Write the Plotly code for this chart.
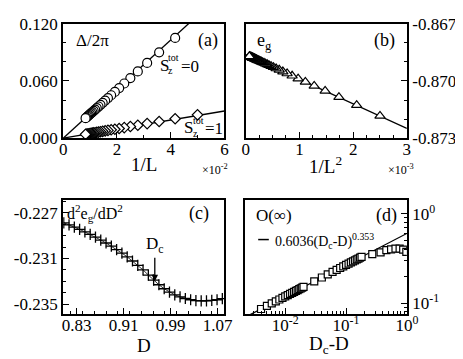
import plotly.graph_objects as go

W, H = 463, 359

# (a) gaps vs 1/L  (x in units of 1e-2)
a_x0 = [4.1667, 3.5714, 3.125, 2.7778, 2.5, 2.2727, 2.0833, 1.9231, 1.7857, 1.6667,
        1.5625, 1.4706, 1.3889, 1.3158, 1.25, 1.1905, 1.1364, 1.087, 1.0417, 1.0,
        0.9615, 0.9259, 0.8929, 0.8621, 0.8333]
a_y0 = [0.1050, 0.0900, 0.0788, 0.0700, 0.0630, 0.0573, 0.0525, 0.0485, 0.0450, 0.0420,
        0.0394, 0.0371, 0.0350, 0.0332, 0.0315, 0.0300, 0.0286, 0.0274, 0.0263, 0.0252,
        0.0242, 0.0233, 0.0225, 0.0217, 0.0210]
a_x1 = [5.0] + a_x0
a_y1 = [0.0245, 0.0204, 0.0175, 0.0153, 0.0136, 0.0123, 0.0111, 0.0102, 0.0094, 0.0088,
        0.0082, 0.0077, 0.0072, 0.0068, 0.0064, 0.0061, 0.0058, 0.0056, 0.0053, 0.0051,
        0.0049, 0.0047, 0.0045, 0.0044, 0.0042, 0.0041]
a_fit_x = [0, 6]
a_fit0_y = [0, 0.1542]
a_fit1_y = [0, 0.0285]

# (b) energy vs 1/L^2 (x in units of 1e-3)
b_x = [2.5, 2.0661, 1.7361, 1.4793, 1.2755, 1.1111, 0.9766, 0.8651, 0.7716, 0.6925,
       0.625, 0.5669, 0.5165, 0.4726, 0.434, 0.4, 0.3698, 0.3429, 0.3189, 0.2973,
       0.2778, 0.2601, 0.2441, 0.2296, 0.2163, 0.2041, 0.1929, 0.1826, 0.1731, 0.1644,
       0.1563, 0.1487, 0.1417, 0.1352, 0.1291, 0.1235, 0.1181, 0.1132, 0.1085, 0.1041,
       0.1, 0.0925, 0.0857, 0.0797, 0.0743, 0.0694]
b_y = [-0.87183, -0.87127, -0.87085, -0.87052, -0.87026, -0.87005, -0.86988, -0.86973,
       -0.86961, -0.86951, -0.86942, -0.86935, -0.86928, -0.86923, -0.86918, -0.86913,
       -0.86910, -0.86906, -0.86903, -0.86900, -0.86898, -0.86895, -0.86893, -0.86892,
       -0.86890, -0.86888, -0.86887, -0.86885, -0.86884, -0.86883, -0.86882, -0.86881,
       -0.86880, -0.86879, -0.86879, -0.86878, -0.86877, -0.86877, -0.86876, -0.86875,
       -0.86875, -0.86874, -0.86873, -0.86872, -0.86872, -0.86871]
b_fit_x = [0, 3]
b_fit_y = [-0.86862, -0.87248]

# (c) second derivative vs D
c_x = [0.808, 0.817, 0.826, 0.835, 0.844, 0.853, 0.862, 0.871, 0.880, 0.889,
       0.898, 0.907, 0.916, 0.925, 0.934, 0.943, 0.952, 0.961, 0.970, 0.979,
       0.988, 0.997, 1.006, 1.015, 1.024, 1.033, 1.042, 1.051, 1.060, 1.069, 1.078]
c_y = [-0.22788, -0.22806, -0.22826, -0.22846, -0.22868, -0.22890, -0.22914, -0.22939,
       -0.22965, -0.22993, -0.23022, -0.23053, -0.23086, -0.23122, -0.23160, -0.23200,
       -0.23245, -0.23290, -0.23330, -0.23365, -0.23395, -0.23418, -0.23436, -0.23450,
       -0.23461, -0.23468, -0.23471, -0.23471, -0.23467, -0.23461, -0.23452]
c_dc = 0.963

# (d) order parameter vs Dc-D
d_x = [0.004, 0.005, 0.006, 0.007, 0.008, 0.009, 0.010, 0.011, 0.012, 0.013, 0.014,
       0.015, 0.016, 0.017, 0.018, 0.019, 0.020,
       0.03, 0.04, 0.05, 0.06, 0.07, 0.08, 0.09, 0.10, 0.11, 0.12, 0.13, 0.14, 0.15,
       0.16, 0.17, 0.18,
       0.27, 0.37, 0.46, 0.55, 0.65, 0.76, 0.87, 0.98]
d_y = [0.0860, 0.0930, 0.0992, 0.1047, 0.1098, 0.1145, 0.1188, 0.1229, 0.1267, 0.1303,
       0.1338, 0.1371, 0.1402, 0.1433, 0.1462, 0.1490, 0.1518,
       0.1750, 0.1938, 0.2097, 0.2236, 0.2361, 0.2475, 0.2580, 0.2678, 0.2770, 0.2857,
       0.2938, 0.3016, 0.3090, 0.3161, 0.3229, 0.3295,
       0.355, 0.370, 0.392, 0.401, 0.408, 0.408, 0.398, 0.376]
d_fit_x = [0.002, 1.0]
d_fit_y = [0.0673, 0.6036]

FONT = "Liberation Serif, Times New Roman, serif"


def P(px):
    return px / W


def Q(py):
    return 1 - py / H


def axis(dom, rng, tickvals, ticktext, minor_dtick=None, **kw):
    d = dict(domain=dom, range=rng, tickmode="array", tickvals=tickvals, ticktext=ticktext,
             showline=True, linecolor="black", linewidth=2, mirror=True,
             ticks="inside", ticklen=6, tickwidth=1.2, tickcolor="black",
             showgrid=False, zeroline=False, ticklabeloverflow="allow",
             tickfont=dict(family=FONT, size=17, color="black"))
    m = dict(ticks="inside", ticklen=3, tickwidth=1, tickcolor="black", showgrid=False)
    if minor_dtick is not None:
        m["dtick"] = minor_dtick
    d["minor"] = m
    d.update(kw)
    return d


line = dict(color="black", width=1.3)


def mk(symbol, size):
    return dict(symbol=symbol, size=size, color="white", line=dict(color="black", width=1.2))


fig = go.Figure()
fig.add_trace(go.Scatter(x=a_fit_x, y=a_fit0_y, mode="lines", line=line, xaxis="x", yaxis="y"))
fig.add_trace(go.Scatter(x=a_fit_x, y=a_fit1_y, mode="lines", line=line, xaxis="x", yaxis="y"))
fig.add_trace(go.Scatter(x=a_x0, y=a_y0, mode="markers", marker=mk("circle", 9), xaxis="x", yaxis="y"))
fig.add_trace(go.Scatter(x=a_x1, y=a_y1, mode="markers", marker=mk("diamond", 8), xaxis="x", yaxis="y"))

fig.add_trace(go.Scatter(x=b_fit_x, y=b_fit_y, mode="lines", line=line, xaxis="x2", yaxis="y2"))
fig.add_trace(go.Scatter(x=b_x, y=b_y, mode="markers", marker=mk("triangle-up", 9), xaxis="x2", yaxis="y2"))

fig.add_trace(go.Scatter(x=c_x, y=c_y, mode="lines+markers", line=dict(color="black", width=0.8),
                         marker=dict(symbol="cross-thin", size=8, line=dict(color="black", width=1.3)),
                         xaxis="x3", yaxis="y3"))

fig.add_trace(go.Scatter(x=d_fit_x, y=d_fit_y, mode="lines", line=line, xaxis="x4", yaxis="y4"))
fig.add_trace(go.Scatter(x=d_x, y=d_y, mode="markers", marker=mk("square", 7), xaxis="x4", yaxis="y4"))

top_a, bot_a = Q(128), Q(7)
top_c, bot_c = Q(314), Q(193)
XSO = -6

fig.update_layout(
    width=W, height=H, margin=dict(l=0, r=0, t=0, b=0),
    paper_bgcolor="white", plot_bgcolor="white", showlegend=False,
    font=dict(family=FONT, color="black"),
    xaxis=axis([P(53), P(220)], [0, 6], [0, 2, 4, 6], ["0", "2", "4", "6"], 1,
               anchor="y", ticklabelstandoff=XSO),
    yaxis=axis([top_a, bot_a], [0, 0.12], [0, 0.06, 0.12], ["0.000", "0.060", "0.120"], 0.02, anchor="x"),
    xaxis2=axis([P(242), P(409)], [0, 3], [0, 1, 2, 3], ["0", "1", "2", "3"], 0.25,
                anchor="y2", ticklabelstandoff=XSO),
    yaxis2=axis([top_a, bot_a], [-0.873, -0.867], [-0.873, -0.870, -0.867],
                ["-0.873", "-0.870", "-0.867"], 0.001, anchor="x2", side="right"),
    xaxis3=axis([P(53), P(220)], [0.807, 1.0815], [0.83, 0.91, 0.99, 1.07],
                ["0.83", "0.91", "0.99", "1.07"], 0.02, anchor="y3", ticklabelstandoff=XSO),
    yaxis3=axis([top_c, bot_c], [-0.23589, -0.22587], [-0.235, -0.231, -0.227],
                ["-0.235", "-0.231", "-0.227"], 0.001, anchor="x3"),
    xaxis4=axis([P(241), P(409)], [-2.667, 0], [0.01, 0.1, 1],
                ["10<sup>-2</sup>", "10<sup>-1</sup>", "10<sup>0</sup>"], "D1", anchor="y4",
                type="log", ticklabelstandoff=XSO),
    yaxis4=axis([top_c, bot_c], [-1.126, 0.158], [0.1, 1],
                ["10<sup>-1</sup>", "10<sup>0</sup>"], "D1", anchor="x4", type="log", side="right"),
)


def txt(x, y, s, size=17, xanchor="center"):
    fig.add_annotation(x=P(x), y=Q(y), xref="paper", yref="paper", text=s, showarrow=False,
                       xanchor=xanchor, yanchor="middle", font=dict(family=FONT, size=size, color="black"))


# panel (a)
txt(64, 25, "\u0394/2\u03c0", 17, "left")
txt(203, 25, "(a)", 18)
txt(151, 51, "S", 17, "left")
txt(160, 43, "tot", 10, "left")
txt(160, 57, "z", 10, "left")
txt(173, 52, "=0", 17, "left")
txt(176, 117, "S", 17, "left")
txt(185, 109, "tot", 10, "left")
txt(185, 123, "z", 10, "left")
txt(198, 118, "=1", 17, "left")
txt(137, 156, "1/L", 19)
txt(210, 161, "\u00d710<sup>-2</sup>", 12)

# panel (b)
txt(252, 26, "e<sub>g</sub>", 18, "left")
txt(386, 25, "(b)", 18)
txt(325, 156, "1/L<sup>2</sup>", 19)
txt(403, 161, "\u00d710<sup>-3</sup>", 12)

# panel (c)
txt(55, 207, "d<sup>2</sup>e<sub>g</sub>/dD<sup>2</sup>", 16, "left")
txt(194, 208, "(c)", 18)
txt(137, 347, "D", 19)
fig.add_annotation(x=c_dc, y=-0.23299, xref="x3", yref="y3", text="D<sub>c</sub>",
                   showarrow=True, arrowhead=2, arrowsize=1, arrowwidth=1.3, arrowcolor="black",
                   ax=0, ay=-36, font=dict(family=FONT, size=17, color="black"))

# panel (d)
txt(251, 210, "O(\u221e)", 17, "left")
txt(388, 210, "(d)", 18)
fig.add_shape(type="line", xref="paper", yref="paper", x0=P(255), x1=P(266), y0=Q(235), y1=Q(235),
              line=dict(color="black", width=1.5))
txt(270, 237, "0.6036(D<sub>c</sub>-D)<sup>0.353</sup>", 14, "left")
txt(328, 346, "D<sub>c</sub>-D", 19)

fig.write_html("out.html")
